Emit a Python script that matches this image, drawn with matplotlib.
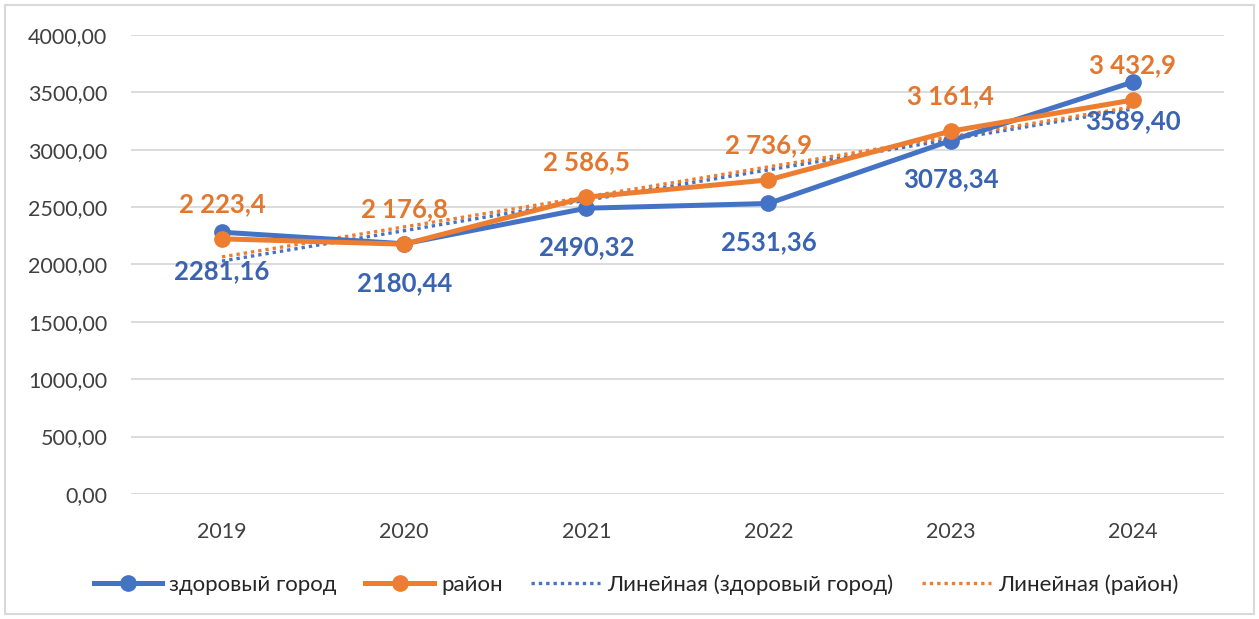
import numpy as np
import matplotlib
matplotlib.use('Agg')
import matplotlib.pyplot as plt
from matplotlib.patches import Rectangle
from matplotlib.lines import Line2D

years = ['2019', '2020', '2021', '2022', '2023', '2024']
city = [2281.16, 2180.44, 2490.32, 2531.36, 3078.34, 3589.40]
district = [2223.4, 2176.8, 2586.5, 2736.9, 3161.4, 3432.9]
city_labels = ['2281,16', '2180,44', '2490,32', '2531,36', '3078,34', '3589,40']
district_labels = ['2 223,4', '2 176,8', '2 586,5', '2 736,9', '3 161,4', '3 432,9']
yticks = [0, 500, 1000, 1500, 2000, 2500, 3000, 3500, 4000]
names = ['здоровый город', 'район', 'Линейная (здоровый город)', 'Линейная (район)']

BLUE = '#4472C4'
ORANGE = '#ED7D31'
BLUE_TXT = '#3A64B2'
ORANGE_TXT = '#E2782F'
DOTS = (0, (1, 1.2))

plt.rcParams['font.family'] = ['Lato', 'DejaVu Sans']

fig = plt.figure(figsize=(12.59, 6.19), dpi=100)
ax = fig.add_axes([0.104, 0.202, 0.868, 0.7415])

x = np.arange(len(years))

# linear trendlines (least squares fit of each series)
for vals, col in [(city, BLUE), (district, ORANGE)]:
    k, b = np.polyfit(x, vals, 1)
    ax.plot(x, k * x + b, color=col, lw=2.4, ls=DOTS, zorder=2)

ax.plot(x, city, color=BLUE, lw=3.6, marker='o', ms=11, zorder=3)
ax.plot(x, district, color=ORANGE, lw=3.6, marker='o', ms=11, zorder=4)

for i in x:
    ax.annotate(city_labels[i], (i, city[i]), xytext=(0, -28), textcoords='offset points',
                ha='center', va='center', color=BLUE_TXT, fontsize=18.5, fontweight='bold', zorder=5)
    ax.annotate(district_labels[i], (i, district[i]), xytext=(0, 25), textcoords='offset points',
                ha='center', va='center', color=ORANGE_TXT, fontsize=18.5, fontweight='bold', zorder=5)

ax.set_xlim(-0.5, len(years) - 0.5)
ax.set_ylim(0, 4000)
ax.set_yticks(yticks)
ax.set_yticklabels([f'{v:.2f}'.replace('.', ',') for v in yticks])
ax.set_xticks(x)
ax.set_xticklabels(years)
ax.tick_params(length=0, labelsize=15.5, colors='#404040')
ax.tick_params(axis='x', pad=20)
ax.tick_params(axis='y', pad=17)
ax.grid(axis='y', color='#d9d9d9', lw=1.3)
ax.set_axisbelow(True)
for s in ax.spines.values():
    s.set_visible(False)

handles = [
    Line2D([], [], color=BLUE, lw=3.6, marker='o', ms=11),
    Line2D([], [], color=ORANGE, lw=3.6, marker='o', ms=11),
    Line2D([], [], color=BLUE, lw=2.4, ls=DOTS),
    Line2D([], [], color=ORANGE, lw=2.4, ls=DOTS),
]
fig.legend(handles, names, loc='center', bbox_to_anchor=(0.505, 0.055), ncol=4, frameon=False,
           fontsize=16, handlelength=3.1, handletextpad=0.3, columnspacing=1.3,
           labelcolor='#262626')

fig.patches.append(Rectangle((0.004, 0.008), 0.992, 0.984, transform=fig.transFigure,
                             fill=False, edgecolor='#d9d9d9', lw=1.5))

fig.savefig('out.png', dpi=100)
